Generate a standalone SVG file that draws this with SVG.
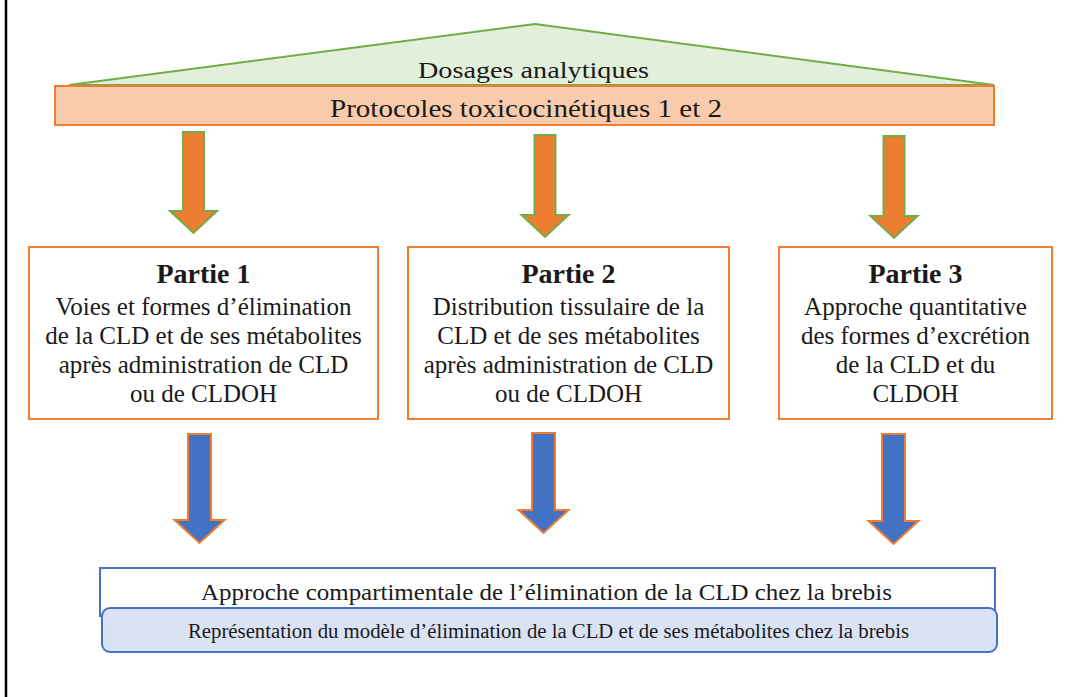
<svg xmlns="http://www.w3.org/2000/svg" width="1083" height="697" viewBox="0 0 1083 697">
<style>
text{font-family:"Liberation Serif","Times New Roman",serif;fill:#1a1a1a;text-anchor:middle}
.box{fill:#ffffff;stroke:#ED7D31;stroke-width:2}
.t25{font-size:25px}
.head{font-size:28px;font-weight:bold}
.oarrow{fill:#ED7D31;stroke:#70AD47;stroke-width:2;stroke-linejoin:miter}
.barrow{fill:#4472C4;stroke:#ED7D31;stroke-width:2;stroke-linejoin:miter}
</style>
<rect x="0" y="0" width="1083" height="697" fill="#ffffff"/>
<line x1="6" y1="0" x2="6" y2="697" stroke="#000000" stroke-width="2.5"/>

<g id="dosages">
<polygon points="69,85 535,24 994,85" fill="#E2EFDA" stroke="#70AD47" stroke-width="2"/>
<text x="533.5" y="78" font-size="23" textLength="231" lengthAdjust="spacingAndGlyphs">Dosages analytiques</text>
</g>
<g id="protocoles">
<rect x="55" y="86" width="939" height="39" fill="#F8CBAD" stroke="#ED7D31" stroke-width="2"/>
<text x="526" y="117" font-size="25" textLength="392" lengthAdjust="spacingAndGlyphs">Protocoles toxicocinétiques 1 et 2</text>
</g>

<g id="connectors">
<polygon class="oarrow" points="183,132 204,132 204,211 217,211 193.5,233 170,211 183,211"/>
<polygon class="oarrow" points="534.5,135 555.5,135 555.5,215 568.5,215 545,237 521.5,215 534.5,215"/>
<polygon class="oarrow" points="883.5,136 904.5,136 904.5,216 917.5,216 894,238 870.5,216 883.5,216"/>
<polygon class="barrow" points="188,434 211,434 211,520 224.5,520 199.5,543 174.5,520 188,520"/>
<polygon class="barrow" points="532,433 555,433 555,510 568.5,510 543.5,533 518.5,510 532,510"/>
<polygon class="barrow" points="882,434 905,434 905,521 918.5,521 893.5,544 868.5,521 882,521"/>
</g>

<g id="partie1">
<rect class="box" x="29" y="247" width="349" height="172"/>
<text class="head" x="203.5" y="283">Partie 1</text>
<text class="t25" x="203.5" y="315">Voies et formes d’élimination</text>
<text class="t25" x="203.5" y="344">de la CLD et de ses métabolites</text>
<text class="t25" x="203.5" y="373">après administration de CLD</text>
<text class="t25" x="203.5" y="402">ou de CLDOH</text>
</g>
<g id="partie2">
<rect class="box" x="408" y="247" width="321" height="172"/>
<text class="head" x="568.5" y="283">Partie 2</text>
<text class="t25" x="568.5" y="315">Distribution tissulaire de la</text>
<text class="t25" x="568.5" y="344">CLD et de ses métabolites</text>
<text class="t25" x="568.5" y="373">après administration de CLD</text>
<text class="t25" x="568.5" y="402">ou de CLDOH</text>
</g>
<g id="partie3">
<rect class="box" x="779" y="247" width="273" height="172"/>
<text class="head" x="915.5" y="283">Partie 3</text>
<text class="t25" x="915.5" y="315">Approche quantitative</text>
<text class="t25" x="915.5" y="344">des formes d’excrétion</text>
<text class="t25" x="915.5" y="373">de la CLD et du</text>
<text class="t25" x="915.5" y="402">CLDOH</text>
</g>

<g id="approche">
<rect x="100" y="568" width="895" height="48" fill="#ffffff" stroke="#4472C4" stroke-width="2"/>
<text x="546.5" y="600" font-size="23" textLength="691" lengthAdjust="spacingAndGlyphs">Approche compartimentale de l’élimination  de la CLD chez la brebis</text>
</g>
<g id="representation">
<rect x="102" y="608" width="895" height="44" rx="8" ry="8" fill="#DAE3F3" stroke="#4472C4" stroke-width="2"/>
<text x="548.5" y="638" font-size="20" textLength="721" lengthAdjust="spacingAndGlyphs">Représentation du modèle d’élimination de la CLD et de ses métabolites chez la brebis</text>
</g>
</svg>
